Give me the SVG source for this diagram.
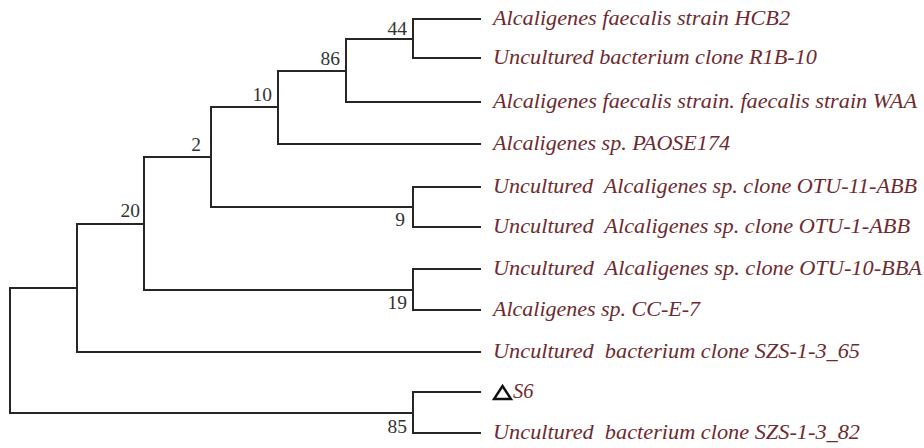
<svg xmlns="http://www.w3.org/2000/svg" width="924" height="448" viewBox="0 0 924 448">
  <style>
    .br { fill: none; stroke: #262626; stroke-width: 2; stroke-linecap: square; }
    .bs { font-family: "Liberation Serif", "Times New Roman", serif; font-size: 19.5px; fill: #333; text-anchor: end; }
    .tx { font-family: "Liberation Serif", "Times New Roman", serif; font-size: 20.5px; font-style: italic; fill: #6e2a30; white-space: pre; }
  </style>
  <rect width="924" height="448" fill="#fff"/>

  <!-- tree branches -->
  <g id="connectors">
    <!-- root -->
    <path class="br" d="M77 288 H10 V413 H413"/>
    <!-- node under root (upper clade) -->
    <path class="br" d="M144 224 H77 V352 H480"/>
    <!-- node 20 -->
    <path class="br" d="M211 157 H144 V290 H413"/>
    <!-- node 2 -->
    <path class="br" d="M278 107 H211 V207 H413"/>
    <!-- node 10 -->
    <path class="br" d="M346 71 H278 V144 H480"/>
    <!-- node 86 -->
    <path class="br" d="M413 39 H346 V102 H480"/>
    <!-- node 44 -->
    <path class="br" d="M480 19 H413 V58 H480"/>
    <!-- node 9 -->
    <path class="br" d="M480 187 H413 V227 H480"/>
    <!-- node 19 -->
    <path class="br" d="M480 269 H413 V310 H480"/>
    <!-- node 85 -->
    <path class="br" d="M480 392 H413 V433 H480"/>
  </g>

  <!-- bootstrap values -->
  <g id="bootstrap">
    <text class="bs" x="407" y="35">44</text>
    <text class="bs" x="340" y="65">86</text>
    <text class="bs" x="272" y="101">10</text>
    <text class="bs" x="201" y="151">2</text>
    <text class="bs" x="140" y="217">20</text>
    <text class="bs" x="405" y="226">9</text>
    <text class="bs" x="407" y="309">19</text>
    <text class="bs" x="407" y="433">85</text>
  </g>

  <!-- taxa -->
  <g id="leaf-hcb2"><text class="tx" x="493" y="25" textLength="297" lengthAdjust="spacingAndGlyphs">Alcaligenes faecalis strain HCB2</text></g>
  <g id="leaf-r1b10"><text class="tx" x="493" y="64" textLength="324" lengthAdjust="spacingAndGlyphs">Uncultured bacterium clone R1B-10</text></g>
  <g id="leaf-waa"><text class="tx" x="493" y="108" textLength="424" lengthAdjust="spacingAndGlyphs">Alcaligenes faecalis strain. faecalis strain WAA</text></g>
  <g id="leaf-paose174"><text class="tx" x="493" y="150" textLength="237" lengthAdjust="spacingAndGlyphs">Alcaligenes sp. PAOSE174</text></g>
  <g id="leaf-otu11"><text class="tx" x="493" y="193" textLength="424" lengthAdjust="spacingAndGlyphs">Uncultured  Alcaligenes sp. clone OTU-11-ABB</text></g>
  <g id="leaf-otu1"><text class="tx" x="493" y="233" textLength="417" lengthAdjust="spacingAndGlyphs">Uncultured  Alcaligenes sp. clone OTU-1-ABB</text></g>
  <g id="leaf-otu10"><text class="tx" x="493" y="275" textLength="429" lengthAdjust="spacingAndGlyphs">Uncultured  Alcaligenes sp. clone OTU-10-BBA</text></g>
  <g id="leaf-cce7"><text class="tx" x="493" y="316" textLength="207" lengthAdjust="spacingAndGlyphs">Alcaligenes sp. CC-E-7</text></g>
  <g id="leaf-szs65"><text class="tx" x="493" y="358" textLength="367" lengthAdjust="spacingAndGlyphs">Uncultured  bacterium clone SZS-1-3_65</text></g>
  <g id="leaf-s6">
    <path d="M502.5 386 L511 399 H494 Z" fill="none" stroke="#111" stroke-width="2.4" stroke-linejoin="miter"/>
    <text class="tx" x="513" y="398">S6</text>
  </g>
  <g id="leaf-szs82"><text class="tx" x="493" y="439" textLength="367" lengthAdjust="spacingAndGlyphs">Uncultured  bacterium clone SZS-1-3_82</text></g>
</svg>
